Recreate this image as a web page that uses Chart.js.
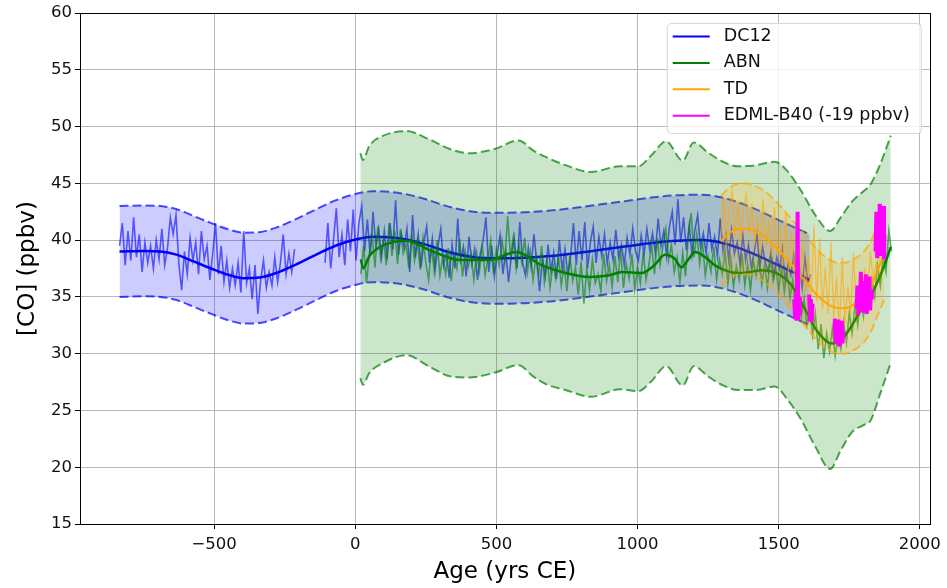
<!DOCTYPE html>
<html>
<head>
<meta charset="utf-8">
<title>CO records</title>
<script src="https://cdn.jsdelivr.net/npm/chart.js@4.4.1/dist/chart.umd.min.js"></script>
<style>
  html, body { margin: 0; padding: 0; background: #fff; }
  #wrap { width: 947px; height: 588px; }
</style>
</head>
<body>
<div id="wrap"><canvas id="myChart" width="947" height="588"></canvas></div>
<script>
// axis ticks
var xTicks = [-500, 0, 500, 1000, 1500, 2000];
var legendLabels = ["DC12", "ABN", "TD", "EDML-B40 (-19 ppbv)"];

// DC12 : smooth fit + band
var dcSmoothYears = [-835, -750, -690, -630, -570, -510, -450, -395, -340, -280, -210, -140, -70, 0, 60, 120, 180, 250, 330, 420, 510, 600, 690, 780, 870, 960, 1050, 1140, 1230, 1300, 1360, 1420, 1480, 1540, 1610];
var dcSmooth = [39.0, 39.05, 39.0, 38.7, 38.1, 37.5, 36.95, 36.65, 36.7, 37.1, 37.85, 38.7, 39.5, 40.05, 40.3, 40.25, 40.05, 39.6, 38.95, 38.5, 38.4, 38.45, 38.6, 38.85, 39.15, 39.45, 39.75, 39.95, 40.0, 39.75, 39.3, 38.7, 38.0, 37.3, 36.5];
var dcUpper = [43.0, 43.05, 43.0, 42.7, 42.1, 41.5, 40.95, 40.65, 40.7, 41.1, 41.85, 42.7, 43.5, 44.05, 44.3, 44.25, 44.05, 43.6, 42.95, 42.5, 42.4, 42.45, 42.6, 42.85, 43.15, 43.45, 43.75, 43.95, 44.0, 43.75, 43.3, 42.7, 42.0, 41.3, 40.5];
var dcLower = [35.0, 35.05, 35.0, 34.7, 34.1, 33.5, 32.95, 32.65, 32.7, 33.1, 33.85, 34.7, 35.5, 36.05, 36.3, 36.25, 36.05, 35.6, 34.95, 34.5, 34.4, 34.45, 34.6, 34.85, 35.15, 35.45, 35.75, 35.95, 36.0, 35.75, 35.3, 34.7, 34.0, 33.3, 32.5];

// DC12 raw record, 2 pieces (gap around -200)
var dcRawStartA = -835, dcRawStartB = -107, rawStep = 10;
var dcRawA = [39.5, 41.5, 37.8, 40.8, 38.2, 42.0, 38.5, 40.5, 37.2, 39.8, 38.0, 39.5, 37.5, 40.0, 38.3, 41.0, 37.8, 39.3, 42.0, 40.5,
  42.2, 38.0, 35.6, 39.0, 37.0, 40.2, 38.2, 39.8, 37.0, 40.8, 38.3, 39.5, 36.5, 38.8, 41.5, 37.0, 39.5, 36.3, 38.2, 35.8,
  37.5, 36.0, 38.0, 35.4, 40.8, 36.2, 37.5, 34.8, 37.8, 33.5, 36.5, 38.2, 35.8, 37.2, 36.0, 38.5, 36.3, 38.0, 40.5, 37.0,
  38.8, 37.2, 39.2];
var dcRawB = [38.0, 41.5, 37.5, 40.0, 42.8, 38.5, 40.5, 37.8, 41.8,
  39.0, 42.7, 38.2, 41.5, 43.0, 39.0, 41.8, 38.6, 42.5, 39.5, 41.0, 38.5,
  40.8, 38.3, 41.5, 39.2, 43.5, 38.7, 40.6, 39.4, 41.0, 37.2, 42.2,
  38.5, 40.5, 37.6, 39.8, 41.2, 38.0, 40.1, 37.4, 39.5, 41.0, 37.8, 38.9, 36.7,
  39.6, 37.5, 41.9, 38.2, 39.4, 36.8, 40.3, 37.9, 39.2, 36.5, 38.8, 40.0, 42.0,
  37.2, 39.5, 36.8, 38.9, 40.4, 37.0, 39.0, 36.3, 38.6, 40.2, 37.5, 41.6, 38.0,
  36.9, 39.3, 37.6, 40.5, 38.1, 35.5, 38.4, 36.8, 39.6, 37.3, 38.9, 36.6, 40.0,
  37.4, 39.2, 36.9, 38.6, 41.5, 37.8, 40.8, 38.2, 41.6, 37.5, 39.8, 41.2, 38.0, 40.3,
  38.6, 40.5, 37.9, 39.8, 38.3, 40.9, 38.5, 39.6, 37.8, 40.2, 38.7, 41.0, 39.0, 38.2,
  40.4, 38.7, 41.0, 39.2, 40.6, 38.9, 41.9, 39.5, 40.8, 38.6, 41.2, 42.5, 39.6, 43.6,
  39.8, 42.0, 39.1, 41.3, 38.7, 40.9, 42.2, 39.4, 40.6, 38.8, 41.5, 39.2, 40.3, 38.6,
  41.9, 39.0, 40.5, 38.3, 40.9, 38.8, 39.8, 37.9, 40.4, 38.2, 39.6, 37.6, 38.9, 40.5,
  37.6, 39.4, 38.0, 37.2, 39.0, 36.8, 38.5, 37.5, 39.2, 36.4, 37.9, 36.9, 38.6, 36.0, 37.6, 35.8, 38.4, 36.3, 37.0];

// ABN
var abnSmoothYears = [20, 28, 50, 100, 180, 275, 370, 475, 570, 660, 745, 830, 900, 945, 1015, 1060, 1097, 1130, 1156, 1180, 1203, 1240, 1273, 1356, 1400, 1438, 1496, 1540, 1570, 1600, 1630, 1660, 1685, 1710, 1735, 1760, 1785, 1810, 1840, 1870, 1897];
var abnSmooth = [38.3, 37.5, 38.6, 39.55, 39.95, 39.0, 38.25, 38.25, 38.95, 37.8, 37.1, 36.75, 36.9, 37.2, 37.1, 37.8, 38.7, 38.4, 37.6, 38.3, 38.95, 38.5, 37.8, 37.1, 37.2, 37.35, 37.05, 36.2, 35.0, 33.6, 32.2, 31.3, 30.9, 31.0, 31.6, 32.5, 33.6, 34.6, 35.8, 37.5, 39.4];
var abnBandYears = [18, 27, 50, 100, 181, 260, 337, 403, 494, 579, 630, 677, 745, 834, 938, 1003, 1050, 1101, 1160, 1199, 1250, 1303, 1356, 1420, 1486, 1530, 1578, 1630, 1682, 1720, 1760, 1800, 1825, 1860, 1897];
var abnUpper = [47.65, 47.06, 48.3, 49.2, 49.6, 48.9, 48.0, 47.65, 48.03, 48.78, 47.9, 47.3, 46.6, 46.0, 46.5, 46.5, 47.5, 48.7, 47.0, 48.6, 47.7, 46.9, 46.5, 46.6, 46.9, 46.1, 44.4, 42.2, 40.8, 42.0, 43.4, 44.3, 44.9, 46.7, 49.2];
var abnLower = [27.85, 27.26, 28.3, 29.2, 29.87, 28.9, 28.0, 27.9, 28.33, 28.99, 28.0, 27.3, 26.8, 26.2, 26.86, 26.7, 27.6, 28.9, 27.2, 28.9, 28.0, 27.2, 26.8, 26.8, 27.1, 26.0, 24.25, 21.8, 19.85, 21.5, 23.1, 23.7, 24.1, 26.5, 29.2];
var abnRawStart = 20;
var abnRaw = [37.0, 39.5, 36.2, 38.8, 40.5, 37.6, 41.2, 38.4, 40.0, 37.8,
  41.5, 38.6, 40.8, 37.9, 41.0, 38.8, 39.6, 37.5, 40.6, 38.2,
  39.9, 37.4, 40.2, 38.0, 36.5, 39.4, 37.2, 40.0, 36.9, 38.5,
  37.0, 39.3, 36.4, 38.7, 37.5, 40.1, 36.8, 39.0, 37.6, 38.8,
  36.5, 38.9, 37.3, 39.6, 36.9, 38.4, 40.0, 37.0, 39.2, 37.8,
  40.0, 38.2, 42.1, 38.6, 40.3, 37.5, 39.6, 38.0, 40.2, 37.2,
  39.0, 36.5, 38.6, 37.0, 39.5, 36.3, 38.2, 35.8, 37.9, 36.6,
  38.5, 36.0, 37.8, 35.5, 38.6, 36.4, 37.6, 35.2, 38.1, 34.4,
  37.5, 35.6, 38.3, 36.2, 37.0, 35.5, 38.8, 36.4, 37.8, 35.9,
  38.6, 36.3, 39.2, 35.8, 37.9, 36.6, 38.8, 35.7, 37.6, 36.2,
  38.9, 36.5, 37.8, 39.6, 37.0, 40.2, 37.8, 39.5, 41.0, 38.2,
  39.6, 37.2, 38.5, 36.3, 38.9, 36.8, 40.4, 42.4, 38.5, 40.6,
  37.9, 39.8, 36.9, 38.6, 37.2, 39.4, 36.5, 38.3, 37.0, 39.0,
  36.2, 38.4, 35.9, 37.7, 36.5, 38.8, 36.0, 37.9, 35.6, 38.2,
  36.8, 38.6, 36.1, 37.8, 35.8, 38.4, 36.4, 37.5, 35.5, 37.6,
  35.4, 37.2, 34.9, 36.5, 34.0, 35.6, 33.2, 34.8, 32.5, 34.0,
  31.6, 33.5, 30.4, 32.6, 29.6, 31.8, 30.2, 32.2, 29.8, 31.5,
  30.4, 32.8, 31.0, 33.6, 31.8, 34.2, 32.5, 35.0, 33.3, 35.8,
  34.2, 36.5, 35.0, 37.8, 36.0, 38.6, 37.2, 40.8, 39.0];

// TD
var tdSmoothYears = [1295, 1330, 1367, 1410, 1450, 1490, 1532, 1570, 1602, 1630, 1661, 1695, 1731, 1765, 1802, 1830, 1849, 1875];
var tdSmooth = [39.9, 40.7, 41.0, 40.85, 40.3, 39.4, 38.25, 37.1, 36.2, 35.3, 34.6, 34.1, 34.0, 34.3, 35.0, 36.1, 37.3, 38.8];
var tdUpper = [43.9, 44.7, 45.0, 44.85, 44.3, 43.4, 42.25, 41.1, 40.2, 39.3, 38.6, 38.1, 38.0, 38.3, 39.0, 40.1, 41.3, 42.8];
var tdLower = [35.9, 36.7, 37.0, 36.85, 36.3, 35.4, 34.25, 33.1, 32.2, 31.3, 30.6, 30.1, 30.0, 30.3, 31.0, 32.1, 33.3, 34.8];
var tdRawStart = 1295;
var tdRaw = [40.5, 43.8, 39.5, 42.6, 44.3, 40.2, 43.5, 39.8, 42.8, 44.0,
  40.5, 43.2, 39.6, 42.0, 38.8, 43.6, 39.4, 41.8, 38.5, 42.9,
  38.6, 41.2, 37.8, 42.5, 37.2, 40.6, 36.8, 41.8, 36.0, 39.8,
  35.5, 38.6, 35.0, 41.3, 34.6, 40.2, 33.9, 37.6, 33.5, 39.8,
  33.2, 36.8, 31.8, 38.5, 32.6, 35.9, 33.4, 38.9, 34.0, 36.2,
  34.5, 37.5, 35.2, 39.0, 36.3, 38.0, 37.5, 40.2, 38.4];

// EDML-B40 (shifted -19 ppbv), null = gap
var edmlYears = [1555, 1558, 1561, 1564, 1567, 1569, 1572, 1575, 1590,
  1608, 1611, 1614, 1617, 1620, 1660,
  1696, 1699, 1702, 1705, 1708, 1711, 1714, 1717, 1720, 1723, 1726, 1729, 1750,
  1776, 1779, 1782, 1785, 1788, 1791, 1794, 1797, 1800, 1803, 1806, 1809, 1812, 1815, 1818, 1821, 1824, 1827, 1830, 1836,
  1843, 1846, 1849, 1852, 1855, 1858, 1861, 1864, 1867, 1870, 1873, 1875];
var edmlValues = [34.8, 33.2, 35.3, 32.9, 42.5, 33.0, 35.0, 33.4, null,
  35.2, 33.0, 34.8, 32.8, 34.4, null,
  31.8, 33.1, 30.9, 32.6, 31.0, 33.0, 30.8, 32.4, 31.2, 32.9, 30.9, 32.0, null,
  34.0, 36.0, 33.4, 35.5, 33.8, 37.2, 34.2, 36.4, 33.6, 35.8, 34.0, 37.0, 33.5, 36.2, 34.5, 36.8, 33.8, 35.6, 34.8, null,
  39.0, 42.5, 38.4, 41.0, 39.2, 43.2, 38.6, 41.6, 39.5, 43.0, 38.3, 40.5];

function pairUp(xs, ys) {
  return xs.map(function (x, i) { return { x: x, y: ys[i] }; });
}
function stepped(start, ys) {
  return ys.map(function (v, i) { return { x: start + i * rawStep, y: v }; });
}

var dcRawPts = stepped(dcRawStartA, dcRawA).concat([{ x: -210, y: null }], stepped(dcRawStartB, dcRawB));

var datasets = [];
function add(ds) {
  ds.pointRadius = 0;
  ds.pointHoverRadius = 0;
  ds.spanGaps = false;
  if (ds.fill === undefined) ds.fill = false;
  datasets.push(ds);
  return datasets.length - 1;
}
function band(xs, up, low, col, fillCol, order) {
  var iLow = add({ data: pairUp(xs, low), borderColor: col, borderWidth: 2, borderDash: [9, 4], cubicInterpolationMode: "monotone", order: order });
  add({ data: pairUp(xs, up), borderColor: col, borderWidth: 2, borderDash: [9, 4], cubicInterpolationMode: "monotone", order: order, fill: iLow, backgroundColor: fillCol });
}

// DC12
add({ data: dcRawPts, borderColor: "rgba(0,0,255,0.6)", borderWidth: 1.6, tension: 0, order: 12 });
add({ data: pairUp(dcSmoothYears, dcSmooth), borderColor: "#0000ff", borderWidth: 2.5, cubicInterpolationMode: "monotone", order: 11 });
band(dcSmoothYears, dcUpper, dcLower, "rgba(0,0,255,0.7)", "rgba(0,0,255,0.2)", 10);
// ABN
add({ data: stepped(abnRawStart, abnRaw), borderColor: "rgba(0,128,0,0.6)", borderWidth: 1.6, tension: 0, order: 9 });
add({ data: pairUp(abnSmoothYears, abnSmooth), borderColor: "#008000", borderWidth: 2.5, cubicInterpolationMode: "monotone", order: 8 });
band(abnBandYears, abnUpper, abnLower, "rgba(0,128,0,0.7)", "rgba(0,128,0,0.2)", 7);
// TD
add({ data: stepped(tdRawStart, tdRaw), borderColor: "rgba(255,165,0,0.6)", borderWidth: 1.3, tension: 0, order: 6 });
add({ data: pairUp(tdSmoothYears, tdSmooth), borderColor: "#ffa500", borderWidth: 2, cubicInterpolationMode: "monotone", order: 5 });
band(tdSmoothYears, tdUpper, tdLower, "rgba(255,165,0,0.7)", "rgba(255,165,0,0.2)", 4);
// EDML
add({ data: pairUp(edmlYears, edmlValues), borderColor: "#ff00ff", borderWidth: 4, tension: 0, order: 1 });

var legendColors = ["#0000ff", "#008000", "#ffa500", "#ff00ff"];

// axes frame (box around plot)
var framePlugin = {
  id: "frame",
  afterDatasetsDraw: function (chart) {
    var a = chart.chartArea, ctx = chart.ctx;
    ctx.save();
    ctx.strokeStyle = "#000";
    ctx.lineWidth = 1;
    ctx.strokeRect(Math.round(a.left) + 0.5, Math.round(a.top) + 0.5, Math.round(a.right - a.left), Math.round(a.bottom - a.top));
    ctx.restore();
  }
};

// legend box in upper right corner
var boxLegend = {
  id: "boxLegend",
  afterDraw: function (chart) {
    var ctx = chart.ctx, a = chart.chartArea;
    var w = 254, h = 110;
    var x0 = a.right - 9 - w, y0 = a.top + 10;
    ctx.save();
    ctx.beginPath();
    ctx.roundRect(x0 + 0.5, y0 + 0.5, w, h, 4);
    ctx.fillStyle = "rgba(255,255,255,0.8)";
    ctx.fill();
    ctx.strokeStyle = "#d5d5d5";
    ctx.lineWidth = 1;
    ctx.stroke();
    ctx.font = "17.5px 'DejaVu Sans'";
    ctx.textBaseline = "middle";
    ctx.fillStyle = "#111";
    for (var i = 0; i < legendLabels.length; i++) {
      var yy = y0 + 13.5 + i * 26.4;
      ctx.beginPath();
      ctx.strokeStyle = legendColors[i];
      ctx.lineWidth = 2;
      ctx.moveTo(x0 + 6, yy);
      ctx.lineTo(x0 + 43, yy);
      ctx.stroke();
      ctx.fillText(legendLabels[i], x0 + 57, yy);
    }
    ctx.restore();
  }
};

Chart.defaults.font.family = "'DejaVu Sans'";
Chart.defaults.color = "#111";

var ctx = document.getElementById("myChart");
var myChart = new Chart(ctx, {
  type: "line",
  data: { datasets: datasets },
  plugins: [framePlugin, boxLegend],
  options: {
    responsive: false,
    animation: false,
    events: [],
    layout: { padding: { top: 13, right: 14, left: 0, bottom: 0 } },
    plugins: { legend: { display: false }, tooltip: { enabled: false } },
    scales: {
      x: {
        type: "linear",
        min: -975,
        max: 2035,
        afterBuildTicks: function (axis) {
          axis.ticks = xTicks.map(function (v) { return { value: v }; });
        },
        afterFit: function (scale) { scale.height = 64; },
        ticks: {
          font: { size: 16.5 },
          padding: 6,
          maxRotation: 0,
          callback: function (v) { return String(v).replace("-", "\u2212"); }
        },
        grid: { color: "#b8b8b8", lineWidth: 1, tickColor: "#000", tickLength: 5 },
        border: { display: false },
        title: { display: true, text: "Age (yrs CE)", font: { size: 23 }, color: "#000", padding: { top: 0, bottom: 2 } }
      },
      y: {
        min: 15,
        max: 60,
        afterFit: function (scale) { scale.width = 80; },
        ticks: { stepSize: 5, font: { size: 16.5 }, padding: 3 },
        grid: { color: "#b8b8b8", lineWidth: 1, tickColor: "#000", tickLength: 5 },
        border: { display: false },
        title: { display: true, text: "[CO] (ppbv)", font: { size: 23 }, color: "#000", padding: { top: 14, bottom: 0 } }
      }
    }
  }
});
</script>
</body>
</html>
